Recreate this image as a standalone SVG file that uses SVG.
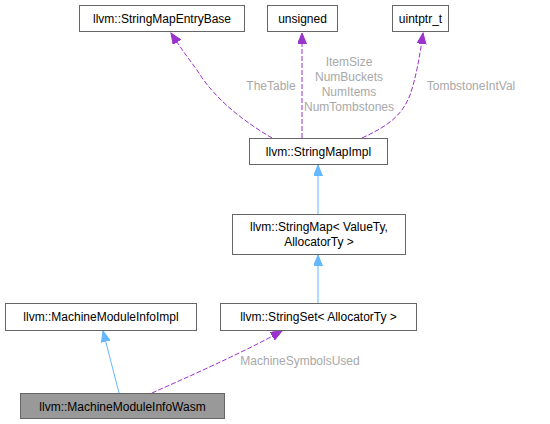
<svg xmlns="http://www.w3.org/2000/svg" width="550" height="424" viewBox="0 0 550 424">
<defs>
<style>
.node rect{fill:#ffffff;stroke:#666666;stroke-width:1}
.node text{font-family:"Liberation Sans",Arial,sans-serif;font-size:12px;fill:#000000;text-anchor:middle}
#wasm rect{fill:#999999}
.blue{fill:none;stroke:#63b8ff;stroke-width:1}
.purple{fill:none;stroke:#9a32cd;stroke-width:1;stroke-dasharray:5,2}
.lbl{font-family:"Liberation Sans",Arial,sans-serif;font-size:12px;fill:#a8a8a8;text-anchor:middle}
</style>
<marker id="ab" markerWidth="13" markerHeight="11" refX="11" refY="4.5" orient="auto" markerUnits="userSpaceOnUse">
<path d="M0,0 L11,4.5 L0,9 Z" fill="#63b8ff" stroke="#63b8ff"/>
</marker>
<marker id="ap" markerWidth="13" markerHeight="11" refX="11" refY="4.5" orient="auto" markerUnits="userSpaceOnUse">
<path d="M0,0 L11,4.5 L0,9 Z" fill="#9a32cd" stroke="#9a32cd"/>
</marker>
</defs>
<rect width="550" height="424" fill="#ffffff"/>
<g id="edges">
<path class="purple" d="M272,138 C245,122 215,100 197,70 C188,58 180,47 171,33" marker-end="url(#ap)"/>
<path class="purple" d="M302,138 L302,33" marker-end="url(#ap)"/>
<path class="purple" d="M362,138 C390,125 402,115 410,95 C416,78 420,55 423,33" marker-end="url(#ap)"/>
<path class="blue" d="M318,214 L318,165" marker-end="url(#ab)"/>
<path class="blue" d="M318,303 L318,255" marker-end="url(#ab)"/>
<path class="blue" d="M119,393 L103,331" marker-end="url(#ab)"/>
<path class="purple" d="M152,393 C190,376 240,354 282,331" marker-end="url(#ap)"/>
<text class="lbl" x="271" y="90">TheTable</text>
<text class="lbl" x="349" y="66">ItemSize</text>
<text class="lbl" x="349" y="81">NumBuckets</text>
<text class="lbl" x="349" y="96">NumItems</text>
<text class="lbl" x="349" y="111">NumTombstones</text>
<text class="lbl" x="471" y="90">TombstoneIntVal</text>
<text class="lbl" x="300" y="365">MachineSymbolsUsed</text>
</g>
<g id="entrybase" class="node"><rect x="79.5" y="5.5" width="165" height="26"/><text x="162" y="22.5">llvm::StringMapEntryBase</text></g>
<g id="unsigned" class="node"><rect x="267.5" y="5.5" width="70" height="26"/><text x="302.5" y="22.5">unsigned</text></g>
<g id="uintptr" class="node"><rect x="392.5" y="5.5" width="56" height="26"/><text x="420.5" y="22.5">uintptr_t</text></g>
<g id="mapimpl" class="node"><rect x="249.5" y="138.5" width="138" height="26"/><text x="318.5" y="155.5">llvm::StringMapImpl</text></g>
<g id="map" class="node"><rect x="232.5" y="214.5" width="173" height="40"/><text x="319" y="230.5">llvm::StringMap&lt; ValueTy,</text><text x="319" y="245.5">AllocatorTy &gt;</text></g>
<g id="mmiimpl" class="node"><rect x="5.5" y="303.5" width="191" height="27"/><text x="101" y="321">llvm::MachineModuleInfoImpl</text></g>
<g id="stringset" class="node"><rect x="220.5" y="303.5" width="196" height="27"/><text x="318.5" y="321">llvm::StringSet&lt; AllocatorTy &gt;</text></g>
<g id="wasm" class="node"><rect x="20.5" y="393.5" width="204" height="25"/><text x="122.5" y="410.5">llvm::MachineModuleInfoWasm</text></g>
</svg>
